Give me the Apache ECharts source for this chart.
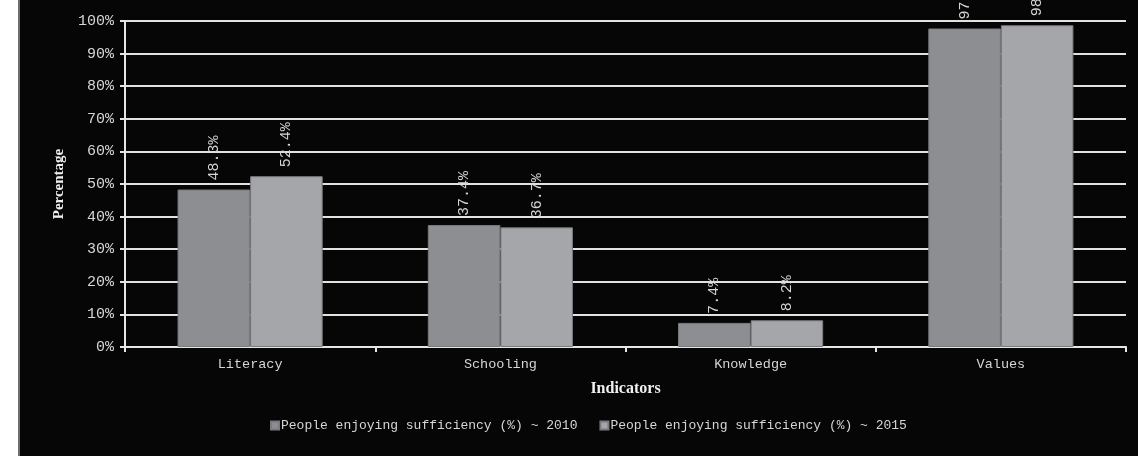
<!DOCTYPE html>
<html>
<head>
<meta charset="utf-8">
<script src="https://cdn.jsdelivr.net/npm/echarts@6/dist/echarts.min.js"></script>
<style>
html,body{margin:0;padding:0;background:#fff;}
#chart{width:1138px;height:456px;}
</style>
</head>
<body>
<div id="chart"></div>
<script>
const categories = ['Literacy', 'Schooling', 'Knowledge', 'Values'];
const seriesNames = ['People enjoying sufficiency (%) ~ 2010', 'People enjoying sufficiency (%) ~ 2015'];
const values2010 = [48.3, 37.4, 7.4, 97.7];
const values2015 = [52.4, 36.7, 8.2, 98.7];
const yTicks = [0, 10, 20, 30, 40, 50, 60, 70, 80, 90, 100];

const mono = "'Liberation Mono', monospace";
const serif = "'Liberation Serif', serif";
const textColor = '#d6d6d6';

const chart = echarts.init(document.getElementById('chart'), null, {renderer: 'canvas'});

function makeSeries(name, data, color) {
  return {
    name: name,
    type: 'bar',
    data: data,
    barGap: '0%',
    barCategoryGap: '42%',
    itemStyle: {color: color, borderColor: '#7a7b7e', borderWidth: 1},
    label: {
      show: true,
      position: 'top',
      rotate: 90,
      align: 'left',
      verticalAlign: 'middle',
      distance: 9,
      color: textColor,
      fontFamily: mono,
      fontSize: 15,
      formatter: p => p.value.toFixed(1) + '%'
    }
  };
}

chart.setOption({
  backgroundColor: '#060606',
  animation: false,
  graphic: [
    {type: 'rect', left: 0, top: 0, shape: {width: 18, height: 456}, style: {fill: '#ffffff'}, z: 100},
    {type: 'rect', left: 18, top: 0, shape: {width: 2, height: 456}, style: {fill: '#6e6e6e'}, z: 100}
  ],
  grid: {left: 125, right: 12, top: 21, bottom: 109, containLabel: false},
  legend: {
    bottom: 19,
    left: 265,
    itemWidth: 8,
    itemHeight: 8,
    itemGap: 22,
    icon: 'rect',
    textStyle: {color: textColor, fontFamily: mono, fontSize: 13, padding: [0, 0, 0, -3]},
    data: seriesNames
  },
  xAxis: {
    type: 'category',
    data: categories,
    name: 'Indicators',
    nameLocation: 'middle',
    nameGap: 34,
    nameTextStyle: {color: '#f0f0f0', fontFamily: serif, fontWeight: 'bold', fontSize: 16},
    axisLine: {lineStyle: {color: '#e6e6e6', width: 2}},
    axisTick: {show: true, length: 5, lineStyle: {color: '#e6e6e6', width: 2}},
    axisLabel: {color: textColor, fontFamily: mono, fontSize: 13.5, margin: 10}
  },
  yAxis: {
    type: 'value',
    min: 0,
    max: 100,
    interval: 10,
    name: 'Percentage',
    nameLocation: 'middle',
    nameGap: 58,
    nameTextStyle: {color: '#f0f0f0', fontFamily: serif, fontWeight: 'bold', fontSize: 15},
    axisLine: {show: true, lineStyle: {color: '#e6e6e6', width: 2}},
    axisTick: {show: true, length: 5, lineStyle: {color: '#e6e6e6', width: 2}},
    axisLabel: {
      color: textColor, fontFamily: mono, fontSize: 15, margin: 11,
      formatter: v => yTicks.includes(v) ? v + '%' : ''
    },
    splitLine: {show: true, lineStyle: {color: '#e2e2e2', width: 2}}
  },
  series: [
    makeSeries(seriesNames[0], values2010, '#8d8e92'),
    makeSeries(seriesNames[1], values2015, '#a5a6a9')
  ]
});
</script>
</body>
</html>
